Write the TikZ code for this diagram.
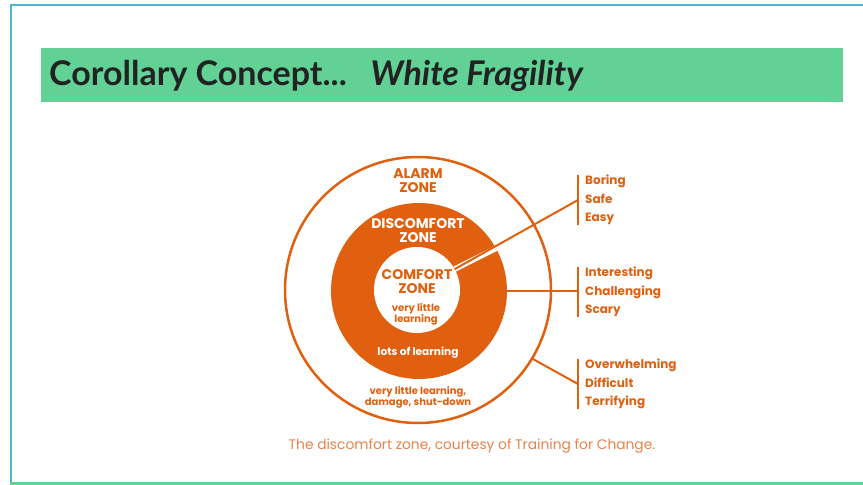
\documentclass[tikz,border=0pt]{standalone}
\usepackage{fontspec}
\setmainfont{Poppins}
\newfontfamily\titulo{Lato}
\usetikzlibrary{positioning}

\definecolor{naranja}{HTML}{E0600F}
\definecolor{naranjaclaro}{HTML}{E8814A}
\definecolor{verde}{HTML}{62D196}
\definecolor{turquesa}{HTML}{4DB9CE}
\definecolor{tinta}{HTML}{222222}

\tikzset{
  zona/.style={font=\bfseries\fontsize{14}{14}\selectfont, align=center, inner sep=0pt},
  nota/.style={font=\bfseries\fontsize{10}{11.5}\selectfont, align=center, inner sep=0pt},
  lista/.style={font=\bfseries\fontsize{12}{18.5}\selectfont, align=left, inner sep=0pt, text=naranja},
  raya/.style={draw=naranja, line width=2pt},
  anillo/.style={circle, inner sep=0pt, outer sep=0pt},
}

\begin{document}
\begin{tikzpicture}[x=1pt, y=-1pt]
        \useasboundingbox (0,0) rectangle (863,485);

        % Marco
        \draw[turquesa, line width=2pt] (863,5) -- (10.5,5) -- (10.5,485);
        \draw[verde, line width=3pt] (10,483.5) -- (863,483.5);

        % Banda del titulo
        \fill[verde] (41,48) rectangle (843,102);
        \node[anchor=west, inner sep=0pt, text=tinta,
              font=\titulo\bfseries\fontsize{34}{36}\selectfont] (titulo) at (49,76)
             {Corollary Concept...\hspace{24pt}\textit{White Fragility}};

        % Circulos
        \node[anillo, draw=naranja, line width=2.5pt, fill=white, minimum size=266pt] (alarma) at (418,290) {};
        \node[anillo, fill=naranja, minimum size=176pt] (disco) at (419,291) {};
        \node[anillo, fill=white, minimum size=86pt] (confort) at (417,290) {};

        % Textos de las zonas
        \node[zona, text=naranja] (t-alarma) at (418,181) {ALARM\\ZONE};
        \node[zona, text=white] (t-disco) at (418,231) {DISCOMFORT\\ZONE};
        \node[zona, text=naranja] (t-confort) at (417,282) {COMFORT\\ZONE};
        \node[nota, text=naranja] (n-confort) at (416,314.5) {very little\\learning};
        \node[nota, text=white, font=\bfseries\fontsize{10.6}{12}\selectfont] (n-disco) at (418,353) {lots of learning};
        \node[nota, text=naranja] (n-alarma) at (418,397.5) {very little learning,\\damage, shut-down};

        % Listas de la derecha
        \coordinate (b1) at (578,200);
        \coordinate (b2) at (578,292);
        \coordinate (b3) at (578,384);
        \node[lista, right=7pt of b1] (lista1) {Boring\\Safe\\Easy};
        \node[lista, right=7pt of b2] (lista2) {Interesting\\Challenging\\Scary};
        \node[lista, right=7pt of b3] (lista3) {Overwhelming\\Difficult\\Terrifying};

        % Conectores
        \draw[white, line width=5.5pt] (confort.29) -- (disco.29);
        \draw[raya] (confort.29) -- (b1);
        \draw[raya] (disco.east) -- (disco.east -| b2);
        \draw[raya] (alarma.-31) -- (b3);

        % Barras
        \draw[raya] (lista1.north -| b1) -- (lista1.south -| b1);
        \draw[raya] (lista2.north -| b2) -- (lista2.south -| b2);
        \draw[raya] (lista3.north -| b3) -- (lista3.south -| b3);

        % Pie
        \node[inner sep=0pt, text=naranjaclaro, font=\fontsize{13.8}{15}\selectfont] (pie) at (472,446)
             {The discomfort zone, courtesy of Training for Change.};

    \end{tikzpicture}
\end{document}
